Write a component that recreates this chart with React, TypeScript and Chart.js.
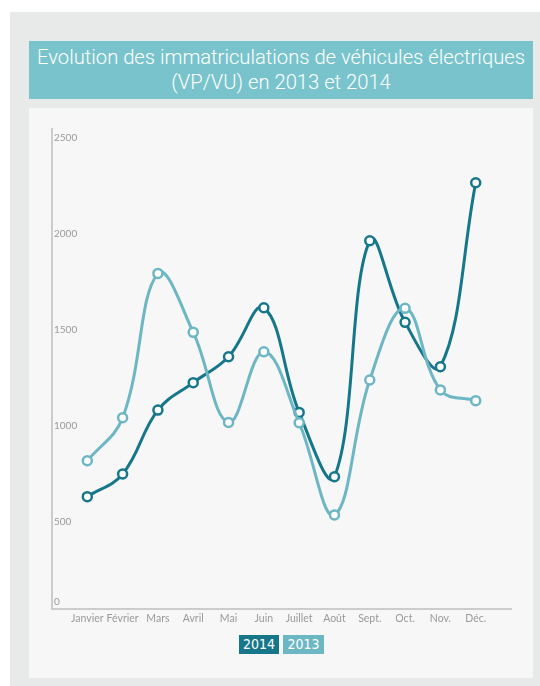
import React, { useEffect, useRef } from "react";
import { Chart, registerables } from "chart.js";

Chart.register(...registerables);

const months = ["Janvier", "Février", "Mars", "Avril", "Mai", "Juin", "Juillet", "Août", "Sept.", "Oct.", "Nov.", "Déc."];
const values2014 = [585, 703, 1036, 1179, 1314, 1569, 1024, 689, 1918, 1493, 1262, 2220];
const values2013 = [772, 996, 1748, 1441, 972, 1340, 970, 490, 1193, 1566, 1141, 1085];
const yTicks = [0, 500, 1000, 1500, 2000, 2500];

const DARK = "#16778a";
const LIGHT = "#6db6c4";

const yLabelPlugin = {
  id: "yLabels",
  afterDraw(chart: any) {
    const { ctx, chartArea, scales } = chart;
    const y = scales.y;
    ctx.save();
    ctx.font = "10px Lato";
    ctx.fillStyle = "#9a9a9a";
    ctx.textAlign = "left";
    ctx.textBaseline = "middle";
    yTicks.forEach((v) => {
      const py = Math.min(y.getPixelForValue(v) + 9, chartArea.bottom - 7);
      ctx.fillText(String(v), chartArea.left + 2, py);
    });
    ctx.restore();
  },
};

export default function App() {
  const ref = useRef<HTMLCanvasElement>(null);
  useEffect(() => {
    if (!ref.current) return;
    const toPts = (arr: number[]) => arr.map((v, i) => ({ x: i, y: v }));
    const chart = new Chart(ref.current, {
      type: "line",
      data: {
        datasets: [
          {
            label: "2013",
            data: toPts(values2013),
            borderColor: LIGHT,
            backgroundColor: "#ffffff",
            pointBackgroundColor: "#ffffff",
            pointBorderColor: LIGHT,
            borderWidth: 3,
            pointRadius: 4.5,
            pointBorderWidth: 2.5,
            tension: 0.4,
            fill: false,
          },
          {
            label: "2014",
            data: toPts(values2014),
            borderColor: DARK,
            backgroundColor: "#ffffff",
            pointBackgroundColor: "#ffffff",
            pointBorderColor: DARK,
            borderWidth: 3,
            pointRadius: 4.5,
            pointBorderWidth: 2.5,
            tension: 0.4,
            fill: false,
          },
        ],
      },
      options: {
        animation: false,
        responsive: false,
        maintainAspectRatio: false,
        layout: { padding: { left: 23, right: 22, top: 21, bottom: 19 } },
        plugins: { legend: { display: false }, tooltip: { enabled: false } },
        scales: {
          x: {
            type: "linear",
            min: -1,
            max: 12,
            grid: { display: false, drawTicks: false, tickLength: 0 },
            border: { display: true, color: "#cccccc", width: 2 },
            afterFit: (s: any) => {
              s.height = 20;
            },
            afterBuildTicks: (s: any) => {
              const t = [];
              for (let i = -1; i <= 12; i++) t.push({ value: i });
              s.ticks = t;
            },
            ticks: {
              autoSkip: false,
              maxRotation: 0,
              padding: 3,
              color: "#9a9a9a",
              font: { family: "Lato", size: 10.5 },
              callback: (v: any) => months[v as number] ?? "",
            },
          },
          y: {
            min: 0,
            max: 2500,
            grid: { display: false, drawTicks: false },
            border: { display: true, color: "#cccccc", width: 2 },
            ticks: { display: false },
            afterFit: (s: any) => {
              s.width = 0;
            },
          },
        },
      },
      plugins: [yLabelPlugin],
    });
    return () => chart.destroy();
  }, []);

  const legendBox = (bg: string, left: number, width: number, text: string) => (
    <div
      style={{
        position: "absolute",
        left,
        top: 635,
        width,
        height: 19,
        background: bg,
        color: "#ffffff",
        fontFamily: "'Liberation Sans Narrow', 'DejaVu Sans Condensed', sans-serif",
        fontSize: 14,
        lineHeight: "19px",
        textAlign: "center",
      }}
    >
      {text}
    </div>
  );

  return (
    <div style={{ position: "absolute", left: 0, top: 0, width: 540, height: 686, background: "#ffffff", overflow: "hidden" }}>
      <div style={{ position: "absolute", left: 10, top: 12, width: 530, height: 674, background: "#e8e9e9" }} />
      <div
        style={{
          position: "absolute",
          left: 29,
          top: 41,
          width: 504,
          height: 58,
          background: "#79c4cc",
          color: "#ffffff",
          fontFamily: "Roboto, sans-serif",
          fontWeight: 300,
          fontSize: 20.2,
          lineHeight: "25px",
          textAlign: "center",
          paddingTop: 4,
          boxSizing: "border-box",
          whiteSpace: "nowrap",
        }}
      >
        Evolution des immatriculations de véhicules électriques
        <br />
        (VP/VU) en 2013 et 2014
      </div>
      <div style={{ position: "absolute", left: 29, top: 108, width: 504, height: 570, background: "#f7f7f7" }} />
      <canvas ref={ref} width={504} height={540} style={{ position: "absolute", left: 29, top: 108, width: 504, height: 540 }} />
      {legendBox(DARK, 239, 40, "2014")}
      {legendBox(LIGHT, 283, 41, "2013")}
    </div>
  );
}
